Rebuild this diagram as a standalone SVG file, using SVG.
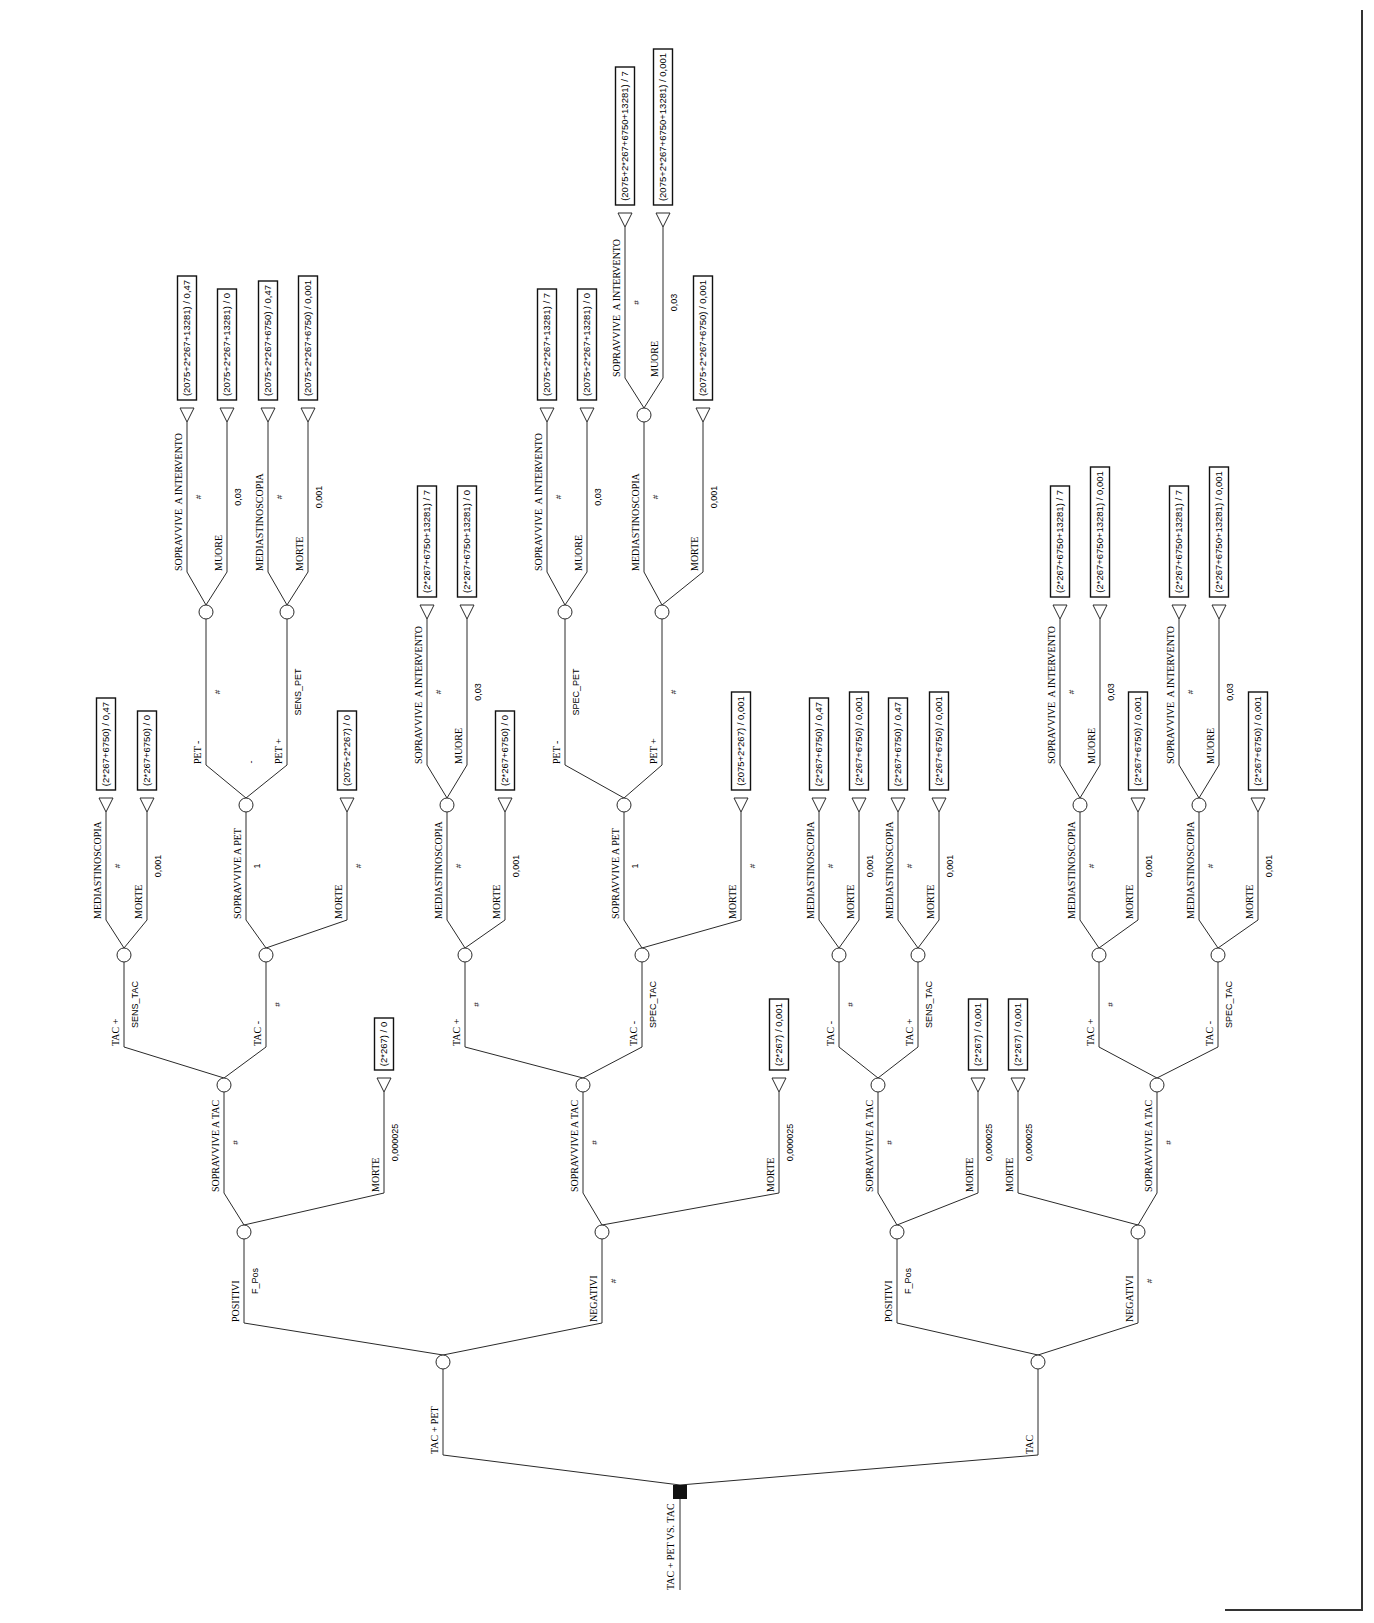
<svg xmlns="http://www.w3.org/2000/svg" xmlns:xlink="http://www.w3.org/1999/xlink" width="1374" height="1623" viewBox="0 0 1374 1623">
<style>
  .ln{fill:none;stroke:#2a2a2a;stroke-width:1}
  .nd{fill:#fff;stroke:#2a2a2a;stroke-width:1}
  .bx{fill:#fff;stroke:#111;stroke-width:1.4}
  .lb{font-family:"Liberation Serif","Times New Roman",serif;font-size:10px;fill:#000}
  .pr{font-family:"Liberation Sans",Arial,sans-serif;font-size:9px;fill:#000;text-anchor:middle}
  .hs{font-family:"Liberation Sans",Arial,sans-serif;font-size:8px;fill:#000;text-anchor:middle}
  .bt{font-family:"Liberation Sans",Arial,sans-serif;font-size:9.5px;fill:#000;text-anchor:middle}
  .fr{fill:none;stroke:#333;stroke-width:2}
</style>
<defs>
  <circle id="chance" r="7" class="nd"/>
  <polygon id="term" points="-7,-7 7,-7 0,7" class="nd"/>
</defs>
<rect width="1374" height="1623" fill="#fff"/>
<!-- page frame -->
<path class="fr" d="M1362,10 L1362,1610 L1225,1610"/>

<g id="connectors">
  <path class="ln" d="M680,1499 L680,1590"/>
  <path class="ln" d="M680,1485 L443,1455 L443,1369"/>
  <path class="ln" d="M680,1485 L1038,1455 L1038,1369"/>
  <path class="ln" d="M443,1355 L244,1323 L244,1239"/>
  <path class="ln" d="M443,1355 L602,1323 L602,1239"/>
  <path class="ln" d="M1038,1355 L897,1323 L897,1239"/>
  <path class="ln" d="M1038,1355 L1138,1323 L1138,1239"/>
  <path class="ln" d="M244,1225 L224,1193 L224,1092"/>
  <path class="ln" d="M244,1225 L384,1193 L384,1092"/>
  <path class="ln" d="M602,1225 L583,1193 L583,1092"/>
  <path class="ln" d="M602,1225 L779,1193 L779,1092"/>
  <path class="ln" d="M897,1225 L878,1193 L878,1092"/>
  <path class="ln" d="M897,1225 L978,1193 L978,1092"/>
  <path class="ln" d="M1138,1225 L1018,1193 L1018,1092"/>
  <path class="ln" d="M1138,1225 L1157,1193 L1157,1092"/>
  <path class="ln" d="M224,1078 L124,1047 L124,962"/>
  <path class="ln" d="M224,1078 L266,1047 L266,962"/>
  <path class="ln" d="M583,1078 L465,1047 L465,962"/>
  <path class="ln" d="M583,1078 L642,1047 L642,962"/>
  <path class="ln" d="M878,1078 L839,1047 L839,962"/>
  <path class="ln" d="M878,1078 L918,1047 L918,962"/>
  <path class="ln" d="M1157,1078 L1099,1047 L1099,962"/>
  <path class="ln" d="M1157,1078 L1218,1047 L1218,962"/>
  <path class="ln" d="M124,948 L106,920 L106,812"/>
  <path class="ln" d="M124,948 L147,920 L147,812"/>
  <path class="ln" d="M266,948 L246,920 L246,812"/>
  <path class="ln" d="M266,948 L347,920 L347,812"/>
  <path class="ln" d="M465,948 L447,920 L447,812"/>
  <path class="ln" d="M465,948 L505,920 L505,812"/>
  <path class="ln" d="M642,948 L624,920 L624,812"/>
  <path class="ln" d="M642,948 L741,920 L741,812"/>
  <path class="ln" d="M839,948 L819,920 L819,812"/>
  <path class="ln" d="M839,948 L859,920 L859,812"/>
  <path class="ln" d="M918,948 L898,920 L898,812"/>
  <path class="ln" d="M918,948 L939,920 L939,812"/>
  <path class="ln" d="M1099,948 L1080,920 L1080,812"/>
  <path class="ln" d="M1099,948 L1138,920 L1138,812"/>
  <path class="ln" d="M1218,948 L1199,920 L1199,812"/>
  <path class="ln" d="M1218,948 L1258,920 L1258,812"/>
  <path class="ln" d="M246,798 L206,765 L206,619"/>
  <path class="ln" d="M246,798 L287,765 L287,619"/>
  <path class="ln" d="M447,798 L427,765 L427,619"/>
  <path class="ln" d="M447,798 L467,765 L467,619"/>
  <path class="ln" d="M624,798 L565,765 L565,619"/>
  <path class="ln" d="M624,798 L662,765 L662,619"/>
  <path class="ln" d="M1080,798 L1060,765 L1060,619"/>
  <path class="ln" d="M1080,798 L1100,765 L1100,619"/>
  <path class="ln" d="M1199,798 L1179,765 L1179,619"/>
  <path class="ln" d="M1199,798 L1219,765 L1219,619"/>
  <path class="ln" d="M206,605 L187,572 L187,422"/>
  <path class="ln" d="M206,605 L227,572 L227,422"/>
  <path class="ln" d="M287,605 L268,572 L268,422"/>
  <path class="ln" d="M287,605 L308,572 L308,422"/>
  <path class="ln" d="M565,605 L547,572 L547,422"/>
  <path class="ln" d="M565,605 L587,572 L587,422"/>
  <path class="ln" d="M662,605 L644,572 L644,422"/>
  <path class="ln" d="M662,605 L703,572 L703,422"/>
  <path class="ln" d="M644,408 L625,378 L625,227"/>
  <path class="ln" d="M644,408 L663,378 L663,227"/>
</g>

<!-- decision node -->
<g id="root">
  <rect x="673" y="1485" width="14" height="14" fill="#111"/>
  <text class="lb" transform="translate(674,1590) rotate(-90)">TAC + PET VS. TAC</text>
</g>

<!-- level 1 -->
<g id="tacpet">
  <use href="#chance" x="443" y="1362"/>
  <text class="lb" transform="translate(438,1454) rotate(-90)">TAC + PET</text>
</g>
<g id="tac">
  <use href="#chance" x="1038" y="1362"/>
  <text class="lb" transform="translate(1033,1454) rotate(-90)">TAC</text>
</g>

<!-- level 2 -->
<g id="g1-pos">
  <use href="#chance" x="244" y="1232"/>
  <text class="lb" transform="translate(239,1322) rotate(-90)">POSITIVI</text>
  <text class="pr" transform="translate(258,1281) rotate(-90)">F_Pos</text>
</g>
<g id="g2-neg">
  <use href="#chance" x="602" y="1232"/>
  <text class="lb" transform="translate(597,1322) rotate(-90)">NEGATIVI</text>
  <text class="hs" transform="translate(616,1281) rotate(-90)">#</text>
</g>
<g id="g3-pos">
  <use href="#chance" x="897" y="1232"/>
  <text class="lb" transform="translate(892,1322) rotate(-90)">POSITIVI</text>
  <text class="pr" transform="translate(911,1281) rotate(-90)">F_Pos</text>
</g>
<g id="g4-neg">
  <use href="#chance" x="1138" y="1232"/>
  <text class="lb" transform="translate(1133,1322) rotate(-90)">NEGATIVI</text>
  <text class="hs" transform="translate(1152,1281) rotate(-90)">#</text>
</g>

<!-- level 3 -->
<g id="g1-sopr">
  <use href="#chance" x="224" y="1085"/>
  <text class="lb" transform="translate(219,1192) rotate(-90)">SOPRAVVIVE A TAC</text>
  <text class="hs" transform="translate(238,1142.5) rotate(-90)">#</text>
</g>
<g id="g1-morte">
  <use href="#term" x="384" y="1085"/>
  <rect class="bx" x="374.5" y="1018" width="19" height="52"/>
  <text class="bt" transform="translate(387.4,1044) rotate(-90)">(2*267) / 0</text>
  <text class="lb" transform="translate(379,1192) rotate(-90)">MORTE</text>
  <text class="pr" transform="translate(398,1142.5) rotate(-90)">0,000025</text>
</g>
<g id="g2-sopr">
  <use href="#chance" x="583" y="1085"/>
  <text class="lb" transform="translate(578,1192) rotate(-90)">SOPRAVVIVE A TAC</text>
  <text class="hs" transform="translate(597,1142.5) rotate(-90)">#</text>
</g>
<g id="g2-morte">
  <use href="#term" x="779" y="1085"/>
  <rect class="bx" x="769.5" y="999" width="19" height="71"/>
  <text class="bt" transform="translate(782.4,1034.5) rotate(-90)">(2*267) / 0,001</text>
  <text class="lb" transform="translate(774,1192) rotate(-90)">MORTE</text>
  <text class="pr" transform="translate(793,1142.5) rotate(-90)">0,000025</text>
</g>
<g id="g3-sopr">
  <use href="#chance" x="878" y="1085"/>
  <text class="lb" transform="translate(873,1192) rotate(-90)">SOPRAVVIVE A TAC</text>
  <text class="hs" transform="translate(892,1142.5) rotate(-90)">#</text>
</g>
<g id="g3-morte">
  <use href="#term" x="978" y="1085"/>
  <rect class="bx" x="968.5" y="999" width="19" height="71"/>
  <text class="bt" transform="translate(981.4,1034.5) rotate(-90)">(2*267) / 0,001</text>
  <text class="lb" transform="translate(973,1192) rotate(-90)">MORTE</text>
  <text class="pr" transform="translate(992,1142.5) rotate(-90)">0,000025</text>
</g>
<g id="g4-morte">
  <use href="#term" x="1018" y="1085"/>
  <rect class="bx" x="1008.5" y="999" width="19" height="71"/>
  <text class="bt" transform="translate(1021.4,1034.5) rotate(-90)">(2*267) / 0,001</text>
  <text class="lb" transform="translate(1013,1192) rotate(-90)">MORTE</text>
  <text class="pr" transform="translate(1032,1142.5) rotate(-90)">0,000025</text>
</g>
<g id="g4-sopr">
  <use href="#chance" x="1157" y="1085"/>
  <text class="lb" transform="translate(1152,1192) rotate(-90)">SOPRAVVIVE A TAC</text>
  <text class="hs" transform="translate(1171,1142.5) rotate(-90)">#</text>
</g>

<!-- level 4 -->
<g id="g1-tacp">
  <use href="#chance" x="124" y="955"/>
  <text class="lb" transform="translate(119,1046) rotate(-90)">TAC +</text>
  <text class="pr" transform="translate(138,1004.5) rotate(-90)">SENS_TAC</text>
</g>
<g id="g1-tacm">
  <use href="#chance" x="266" y="955"/>
  <text class="lb" transform="translate(261,1046) rotate(-90)">TAC -</text>
  <text class="hs" transform="translate(280,1004.5) rotate(-90)">#</text>
</g>
<g id="g2-tacp">
  <use href="#chance" x="465" y="955"/>
  <text class="lb" transform="translate(460,1046) rotate(-90)">TAC +</text>
  <text class="hs" transform="translate(479,1004.5) rotate(-90)">#</text>
</g>
<g id="g2-tacm">
  <use href="#chance" x="642" y="955"/>
  <text class="lb" transform="translate(637,1046) rotate(-90)">TAC -</text>
  <text class="pr" transform="translate(656,1004.5) rotate(-90)">SPEC_TAC</text>
</g>
<g id="g3-tacm">
  <use href="#chance" x="839" y="955"/>
  <text class="lb" transform="translate(834,1046) rotate(-90)">TAC -</text>
  <text class="hs" transform="translate(853,1004.5) rotate(-90)">#</text>
</g>
<g id="g3-tacp">
  <use href="#chance" x="918" y="955"/>
  <text class="lb" transform="translate(913,1046) rotate(-90)">TAC +</text>
  <text class="pr" transform="translate(932,1004.5) rotate(-90)">SENS_TAC</text>
</g>
<g id="g4-tacp">
  <use href="#chance" x="1099" y="955"/>
  <text class="lb" transform="translate(1094,1046) rotate(-90)">TAC +</text>
  <text class="hs" transform="translate(1113,1004.5) rotate(-90)">#</text>
</g>
<g id="g4-tacm">
  <use href="#chance" x="1218" y="955"/>
  <text class="lb" transform="translate(1213,1046) rotate(-90)">TAC -</text>
  <text class="pr" transform="translate(1232,1004.5) rotate(-90)">SPEC_TAC</text>
</g>

<!-- level 5 -->
<g id="g1-med">
  <use href="#term" x="106" y="805"/>
  <rect class="bx" x="96.5" y="698" width="19" height="92"/>
  <text class="bt" transform="translate(109.4,744) rotate(-90)">(2*267+6750) / 0,47</text>
  <text class="lb" transform="translate(101,919) rotate(-90)">MEDIASTINOSCOPIA</text>
  <text class="hs" transform="translate(120,866) rotate(-90)">#</text>
</g>
<g id="g1-med-morte">
  <use href="#term" x="147" y="805"/>
  <rect class="bx" x="137.5" y="711" width="19" height="79"/>
  <text class="bt" transform="translate(150.4,750.5) rotate(-90)">(2*267+6750) / 0</text>
  <text class="lb" transform="translate(142,919) rotate(-90)">MORTE</text>
  <text class="pr" transform="translate(161,866) rotate(-90)">0,001</text>
</g>
<g id="g1-sopet">
  <use href="#chance" x="246" y="805"/>
  <text class="lb" transform="translate(241,919) rotate(-90)">SOPRAVVIVE A PET</text>
  <text class="pr" transform="translate(260,866) rotate(-90)">1</text>
</g>
<g id="g1-pet-morte">
  <use href="#term" x="347" y="805"/>
  <rect class="bx" x="337.5" y="711" width="19" height="79"/>
  <text class="bt" transform="translate(350.4,750.5) rotate(-90)">(2075+2*267) / 0</text>
  <text class="lb" transform="translate(342,919) rotate(-90)">MORTE</text>
  <text class="hs" transform="translate(361,866) rotate(-90)">#</text>
</g>
<g id="g2-med">
  <use href="#chance" x="447" y="805"/>
  <text class="lb" transform="translate(442,919) rotate(-90)">MEDIASTINOSCOPIA</text>
  <text class="hs" transform="translate(461,866) rotate(-90)">#</text>
</g>
<g id="g2-med-morte">
  <use href="#term" x="505" y="805"/>
  <rect class="bx" x="495.5" y="711" width="19" height="79"/>
  <text class="bt" transform="translate(508.4,750.5) rotate(-90)">(2*267+6750) / 0</text>
  <text class="lb" transform="translate(500,919) rotate(-90)">MORTE</text>
  <text class="pr" transform="translate(519,866) rotate(-90)">0,001</text>
</g>
<g id="g2-sopet">
  <use href="#chance" x="624" y="805"/>
  <text class="lb" transform="translate(619,919) rotate(-90)">SOPRAVVIVE A PET</text>
  <text class="pr" transform="translate(638,866) rotate(-90)">1</text>
</g>
<g id="g2-pet-morte">
  <use href="#term" x="741" y="805"/>
  <rect class="bx" x="731.5" y="692" width="19" height="98"/>
  <text class="bt" transform="translate(744.4,741) rotate(-90)">(2075+2*267) / 0,001</text>
  <text class="lb" transform="translate(736,919) rotate(-90)">MORTE</text>
  <text class="hs" transform="translate(755,866) rotate(-90)">#</text>
</g>
<g id="g3m-med">
  <use href="#term" x="819" y="805"/>
  <rect class="bx" x="809.5" y="698" width="19" height="92"/>
  <text class="bt" transform="translate(822.4,744) rotate(-90)">(2*267+6750) / 0,47</text>
  <text class="lb" transform="translate(814,919) rotate(-90)">MEDIASTINOSCOPIA</text>
  <text class="hs" transform="translate(833,866) rotate(-90)">#</text>
</g>
<g id="g3m-morte">
  <use href="#term" x="859" y="805"/>
  <rect class="bx" x="849.5" y="692" width="19" height="98"/>
  <text class="bt" transform="translate(862.4,741) rotate(-90)">(2*267+6750) / 0,001</text>
  <text class="lb" transform="translate(854,919) rotate(-90)">MORTE</text>
  <text class="pr" transform="translate(873,866) rotate(-90)">0,001</text>
</g>
<g id="g3p-med">
  <use href="#term" x="898" y="805"/>
  <rect class="bx" x="888.5" y="698" width="19" height="92"/>
  <text class="bt" transform="translate(901.4,744) rotate(-90)">(2*267+6750) / 0,47</text>
  <text class="lb" transform="translate(893,919) rotate(-90)">MEDIASTINOSCOPIA</text>
  <text class="hs" transform="translate(912,866) rotate(-90)">#</text>
</g>
<g id="g3p-morte">
  <use href="#term" x="939" y="805"/>
  <rect class="bx" x="929.5" y="692" width="19" height="98"/>
  <text class="bt" transform="translate(942.4,741) rotate(-90)">(2*267+6750) / 0,001</text>
  <text class="lb" transform="translate(934,919) rotate(-90)">MORTE</text>
  <text class="pr" transform="translate(953,866) rotate(-90)">0,001</text>
</g>
<g id="g4p-med">
  <use href="#chance" x="1080" y="805"/>
  <text class="lb" transform="translate(1075,919) rotate(-90)">MEDIASTINOSCOPIA</text>
  <text class="hs" transform="translate(1094,866) rotate(-90)">#</text>
</g>
<g id="g4p-morte">
  <use href="#term" x="1138" y="805"/>
  <rect class="bx" x="1128.5" y="692" width="19" height="98"/>
  <text class="bt" transform="translate(1141.4,741) rotate(-90)">(2*267+6750) / 0,001</text>
  <text class="lb" transform="translate(1133,919) rotate(-90)">MORTE</text>
  <text class="pr" transform="translate(1152,866) rotate(-90)">0,001</text>
</g>
<g id="g4m-med">
  <use href="#chance" x="1199" y="805"/>
  <text class="lb" transform="translate(1194,919) rotate(-90)">MEDIASTINOSCOPIA</text>
  <text class="hs" transform="translate(1213,866) rotate(-90)">#</text>
</g>
<g id="g4m-morte">
  <use href="#term" x="1258" y="805"/>
  <rect class="bx" x="1248.5" y="692" width="19" height="98"/>
  <text class="bt" transform="translate(1261.4,741) rotate(-90)">(2*267+6750) / 0,001</text>
  <text class="lb" transform="translate(1253,919) rotate(-90)">MORTE</text>
  <text class="pr" transform="translate(1272,866) rotate(-90)">0,001</text>
</g>

<!-- level 6 -->
<g id="g1-petm">
  <use href="#chance" x="206" y="612"/>
  <text class="lb" transform="translate(201,764) rotate(-90)">PET -</text>
  <text class="hs" transform="translate(220,692) rotate(-90)">#</text>
</g>
<g id="g1-petp">
  <use href="#chance" x="287" y="612"/>
  <text class="lb" transform="translate(282,764) rotate(-90)">PET +</text>
  <text class="pr" transform="translate(301,692) rotate(-90)">SENS_PET</text>
  <text class="pr" transform="translate(254,762) rotate(-90)">-</text>
</g>
<g id="g2-med-sopr">
  <use href="#term" x="427" y="612"/>
  <rect class="bx" x="417.5" y="486" width="19" height="111"/>
  <text class="bt" transform="translate(430.4,541.5) rotate(-90)">(2*267+6750+13281) / 7</text>
  <text class="lb" transform="translate(422,764) rotate(-90)" xml:space="preserve">SOPRAVVIVE  A INTERVENTO</text>
  <text class="hs" transform="translate(441,692) rotate(-90)">#</text>
</g>
<g id="g2-med-muore">
  <use href="#term" x="467" y="612"/>
  <rect class="bx" x="457.5" y="486" width="19" height="111"/>
  <text class="bt" transform="translate(470.4,541.5) rotate(-90)">(2*267+6750+13281) / 0</text>
  <text class="lb" transform="translate(462,764) rotate(-90)">MUORE</text>
  <text class="pr" transform="translate(481,692) rotate(-90)">0,03</text>
</g>
<g id="g2-petm">
  <use href="#chance" x="565" y="612"/>
  <text class="lb" transform="translate(560,764) rotate(-90)">PET -</text>
  <text class="pr" transform="translate(579,692) rotate(-90)">SPEC_PET</text>
</g>
<g id="g2-petp">
  <use href="#chance" x="662" y="612"/>
  <text class="lb" transform="translate(657,764) rotate(-90)">PET +</text>
  <text class="hs" transform="translate(676,692) rotate(-90)">#</text>
</g>
<g id="g4p-med-sopr">
  <use href="#term" x="1060" y="612"/>
  <rect class="bx" x="1050.5" y="486" width="19" height="111"/>
  <text class="bt" transform="translate(1063.4,541.5) rotate(-90)">(2*267+6750+13281) / 7</text>
  <text class="lb" transform="translate(1055,764) rotate(-90)" xml:space="preserve">SOPRAVVIVE  A INTERVENTO</text>
  <text class="hs" transform="translate(1074,692) rotate(-90)">#</text>
</g>
<g id="g4p-med-muore">
  <use href="#term" x="1100" y="612"/>
  <rect class="bx" x="1090.5" y="467" width="19" height="130"/>
  <text class="bt" transform="translate(1103.4,532) rotate(-90)">(2*267+6750+13281) / 0,001</text>
  <text class="lb" transform="translate(1095,764) rotate(-90)">MUORE</text>
  <text class="pr" transform="translate(1114,692) rotate(-90)">0,03</text>
</g>
<g id="g4m-med-sopr">
  <use href="#term" x="1179" y="612"/>
  <rect class="bx" x="1169.5" y="486" width="19" height="111"/>
  <text class="bt" transform="translate(1182.4,541.5) rotate(-90)">(2*267+6750+13281) / 7</text>
  <text class="lb" transform="translate(1174,764) rotate(-90)" xml:space="preserve">SOPRAVVIVE  A INTERVENTO</text>
  <text class="hs" transform="translate(1193,692) rotate(-90)">#</text>
</g>
<g id="g4m-med-muore">
  <use href="#term" x="1219" y="612"/>
  <rect class="bx" x="1209.5" y="467" width="19" height="130"/>
  <text class="bt" transform="translate(1222.4,532) rotate(-90)">(2*267+6750+13281) / 0,001</text>
  <text class="lb" transform="translate(1214,764) rotate(-90)">MUORE</text>
  <text class="pr" transform="translate(1233,692) rotate(-90)">0,03</text>
</g>

<!-- level 7 -->
<g id="g1-petm-sopr">
  <use href="#term" x="187" y="415"/>
  <rect class="bx" x="177.5" y="276" width="19" height="124"/>
  <text class="bt" transform="translate(190.4,338) rotate(-90)">(2075+2*267+13281) / 0,47</text>
  <text class="lb" transform="translate(182,571) rotate(-90)" xml:space="preserve">SOPRAVVIVE  A INTERVENTO</text>
  <text class="hs" transform="translate(201,497) rotate(-90)">#</text>
</g>
<g id="g1-petm-muore">
  <use href="#term" x="227" y="415"/>
  <rect class="bx" x="217.5" y="289" width="19" height="111"/>
  <text class="bt" transform="translate(230.4,344.5) rotate(-90)">(2075+2*267+13281) / 0</text>
  <text class="lb" transform="translate(222,571) rotate(-90)">MUORE</text>
  <text class="pr" transform="translate(241,497) rotate(-90)">0,03</text>
</g>
<g id="g1-petp-med">
  <use href="#term" x="268" y="415"/>
  <rect class="bx" x="258.5" y="281" width="19" height="119"/>
  <text class="bt" transform="translate(271.4,340.5) rotate(-90)">(2075+2*267+6750) / 0,47</text>
  <text class="lb" transform="translate(263,571) rotate(-90)">MEDIASTINOSCOPIA</text>
  <text class="hs" transform="translate(282,497) rotate(-90)">#</text>
</g>
<g id="g1-petp-morte">
  <use href="#term" x="308" y="415"/>
  <rect class="bx" x="298.5" y="276" width="19" height="124"/>
  <text class="bt" transform="translate(311.4,338) rotate(-90)">(2075+2*267+6750) / 0,001</text>
  <text class="lb" transform="translate(303,571) rotate(-90)">MORTE</text>
  <text class="pr" transform="translate(322,497) rotate(-90)">0,001</text>
</g>
<g id="g2-petm-sopr">
  <use href="#term" x="547" y="415"/>
  <rect class="bx" x="537.5" y="289" width="19" height="111"/>
  <text class="bt" transform="translate(550.4,344.5) rotate(-90)">(2075+2*267+13281) / 7</text>
  <text class="lb" transform="translate(542,571) rotate(-90)" xml:space="preserve">SOPRAVVIVE  A INTERVENTO</text>
  <text class="hs" transform="translate(561,497) rotate(-90)">#</text>
</g>
<g id="g2-petm-muore">
  <use href="#term" x="587" y="415"/>
  <rect class="bx" x="577.5" y="289" width="19" height="111"/>
  <text class="bt" transform="translate(590.4,344.5) rotate(-90)">(2075+2*267+13281) / 0</text>
  <text class="lb" transform="translate(582,571) rotate(-90)">MUORE</text>
  <text class="pr" transform="translate(601,497) rotate(-90)">0,03</text>
</g>
<g id="g2-petp-med">
  <use href="#chance" x="644" y="415"/>
  <text class="lb" transform="translate(639,571) rotate(-90)">MEDIASTINOSCOPIA</text>
  <text class="hs" transform="translate(658,497) rotate(-90)">#</text>
</g>
<g id="g2-petp-morte">
  <use href="#term" x="703" y="415"/>
  <rect class="bx" x="693.5" y="276" width="19" height="124"/>
  <text class="bt" transform="translate(706.4,338) rotate(-90)">(2075+2*267+6750) / 0,001</text>
  <text class="lb" transform="translate(698,571) rotate(-90)">MORTE</text>
  <text class="pr" transform="translate(717,497) rotate(-90)">0,001</text>
</g>

<!-- level 8 -->
<g id="g2-int-sopr">
  <use href="#term" x="625" y="220"/>
  <rect class="bx" x="615.5" y="67" width="19" height="138"/>
  <text class="bt" transform="translate(628.4,136) rotate(-90)">(2075+2*267+6750+13281) / 7</text>
  <text class="lb" transform="translate(620,377) rotate(-90)" xml:space="preserve">SOPRAVVIVE  A INTERVENTO</text>
  <text class="hs" transform="translate(639,302.5) rotate(-90)">#</text>
</g>
<g id="g2-int-muore">
  <use href="#term" x="663" y="220"/>
  <rect class="bx" x="653.5" y="49" width="19" height="156"/>
  <text class="bt" transform="translate(666.4,127) rotate(-90)">(2075+2*267+6750+13281) / 0,001</text>
  <text class="lb" transform="translate(658,377) rotate(-90)">MUORE</text>
  <text class="pr" transform="translate(677,302.5) rotate(-90)">0,03</text>
</g>
</svg>
